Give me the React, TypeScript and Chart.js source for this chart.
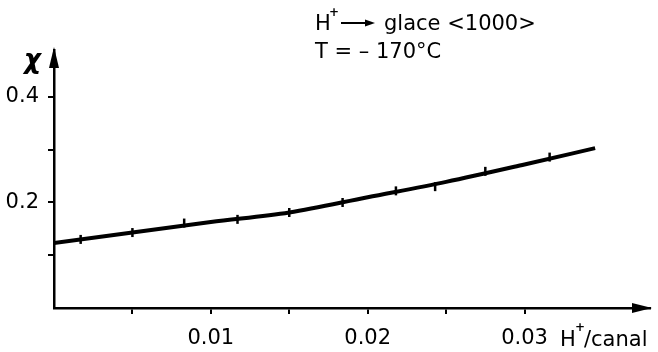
import React, { useEffect, useRef } from "react";
import Chart from "chart.js/auto";

const FIT_X = [0, 0.005, 0.01, 0.015, 0.02, 0.025, 0.03, 0.0345];
const FIT_Y = [0.123, 0.143, 0.163, 0.181, 0.21, 0.239, 0.272, 0.303];

const MEAS_X = [0.0017, 0.005, 0.0083, 0.0117, 0.015, 0.0184, 0.0218, 0.0243, 0.0275, 0.0316];
const MEAS_Y = [0.13, 0.143, 0.161, 0.168, 0.181, 0.2, 0.222, 0.23, 0.259, 0.286];

const X_TICKS = [0.005, 0.01, 0.015, 0.02, 0.025, 0.03];
const X_TICK_LABELS = ["", "0.01", "", "0.02", "", "0.03"];
const Y_TICKS = [0.1, 0.2, 0.3, 0.4];
const Y_TICK_LABELS = ["", "0.2", "", "0.4"];

const TITLE_LINE1 = "glace <1000>";
const TITLE_LINE2 = "T = – 170°C";
const Y_TITLE = "χ";
const X_TITLE = "/canal";

const FONT = '"DejaVu Sans", sans-serif';

const decor = {
  id: "decor",
  afterDraw(chart: any) {
    const ctx = chart.ctx;
    const a = chart.chartArea;
    ctx.save();
    ctx.fillStyle = "#000";
    ctx.strokeStyle = "#000";
    // y arrow
    ctx.beginPath();
    ctx.moveTo(a.left, a.top - 3);
    ctx.lineTo(a.left - 5, a.top + 18);
    ctx.lineTo(a.left + 5, a.top + 18);
    ctx.closePath();
    ctx.fill();
    // x arrow
    ctx.beginPath();
    ctx.moveTo(a.right + 2, a.bottom);
    ctx.lineTo(a.right - 18, a.bottom - 5);
    ctx.lineTo(a.right - 18, a.bottom + 5);
    ctx.closePath();
    ctx.fill();

    ctx.textBaseline = "alphabetic";
    ctx.textAlign = "left";
    // y title
    ctx.font = "italic bold 26px " + FONT;
    ctx.fillText(Y_TITLE, 24, 68);
    // title line 1
    ctx.font = "21px " + FONT;
    ctx.fillText("H", 315, 30);
    ctx.font = "bold 12px " + FONT;
    ctx.fillText("+", 329, 16);
    ctx.lineWidth = 2;
    ctx.beginPath();
    ctx.moveTo(341, 23);
    ctx.lineTo(368, 23);
    ctx.stroke();
    ctx.beginPath();
    ctx.moveTo(375, 23);
    ctx.lineTo(365, 19.5);
    ctx.lineTo(365, 26.5);
    ctx.closePath();
    ctx.fill();
    ctx.font = "21px " + FONT;
    ctx.fillText(TITLE_LINE1, 384, 30);
    // title line 2
    ctx.fillText(TITLE_LINE2, 315, 58);
    // x title
    ctx.fillText("H", 560, 346);
    ctx.font = "bold 12px " + FONT;
    ctx.fillText("+", 575, 331);
    ctx.font = "21px " + FONT;
    ctx.fillText(X_TITLE, 584, 346);
    ctx.restore();
  },
};

export default function App() {
  const ref = useRef<HTMLCanvasElement>(null);
  useEffect(() => {
    const chart = new Chart(ref.current!, {
      type: "scatter",
      data: {
        datasets: [
          {
            type: "line",
            data: FIT_X.map((x, i) => ({ x, y: FIT_Y[i] })),
            borderColor: "#000",
            borderWidth: 4,
            pointRadius: 0,
            cubicInterpolationMode: "monotone",
            fill: false,
          },
          {
            data: MEAS_X.map((x, i) => ({ x, y: MEAS_Y[i] })),
            pointStyle: "line",
            rotation: 90,
            pointRadius: 4.5,
            borderColor: "#000",
            backgroundColor: "#000",
            borderWidth: 2.5,
          },
        ],
      },
      options: {
        responsive: false,
        animation: false,
        events: [],
        layout: { padding: { top: 50, right: 8, left: 0, bottom: 0 } },
        plugins: { legend: { display: false }, tooltip: { enabled: false }, title: { display: false } },
        scales: {
          x: {
            type: "linear",
            min: 0,
            max: 0.038,
            afterFit: (s: any) => {
              s.height = 44;
            },
            afterBuildTicks: (s: any) => {
              s.ticks = X_TICKS.map((v) => ({ value: v }));
            },
            border: { display: true, color: "#000", width: 2.5 },
            grid: { drawOnChartArea: false, drawTicks: true, tickLength: 6, color: "#000", lineWidth: 2 },
            ticks: {
              color: "#000",
              font: { family: FONT, size: 21 },
              padding: 12,
              maxRotation: 0,
              autoSkip: false,
              callback: (_v: any, i: number) => X_TICK_LABELS[i],
            },
          },
          y: {
            type: "linear",
            min: 0,
            max: 0.489,
            afterFit: (s: any) => {
              s.width = 54;
            },
            afterBuildTicks: (s: any) => {
              s.ticks = Y_TICKS.map((v) => ({ value: v }));
            },
            border: { display: true, color: "#000", width: 2.5 },
            grid: { drawOnChartArea: false, drawTicks: true, tickLength: 6, color: "#000", lineWidth: 2 },
            ticks: {
              color: "#000",
              font: { family: FONT, size: 21 },
              padding: 9,
              autoSkip: false,
              callback: (_v: any, i: number) => Y_TICK_LABELS[i],
            },
          },
        },
      },
      plugins: [decor],
    } as any);
    return () => chart.destroy();
  }, []);
  return (
    <div style={{ position: "absolute", left: 0, top: 0, width: 658, height: 352, background: "#fff" }}>
      <canvas ref={ref} width={658} height={352} />
    </div>
  );
}
